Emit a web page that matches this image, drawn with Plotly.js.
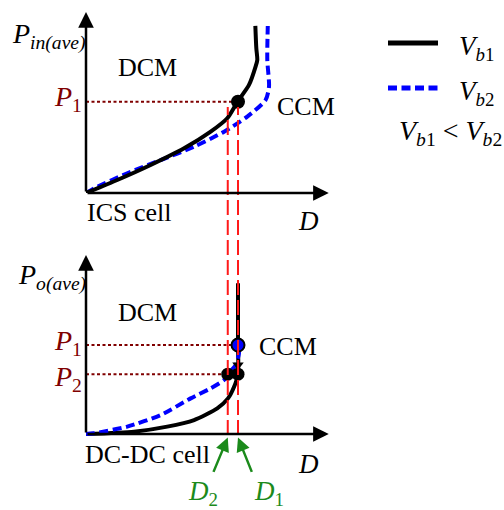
<!DOCTYPE html>
<html><head><meta charset="utf-8">
<script src="https://cdn.plot.ly/plotly-3.0.1.min.js"></script>
<style>html,body{margin:0;padding:0;background:#fff}#chart{width:504px;height:510px}</style>
</head><body><div id="chart"></div>
<script>
// ICS cell: average input power versus duty ratio D (normalised units)
const icsD_Vb1 = [0, 0.128, 0.265, 0.402, 0.511, 0.579, 0.621, 0.668, 0.695, 0.702, 0.698, 0.694];
const icsP_Vb1 = [0, 0.072, 0.155, 0.247, 0.339, 0.413, 0.504, 0.597, 0.698, 0.735, 0.80, 0.923];
const icsD_Vb2 = [0, 0.033, 0.169, 0.306, 0.443, 0.566, 0.661, 0.736, 0.750, 0.743, 0.745];
const icsP_Vb2 = [0, 0.026, 0.109, 0.182, 0.256, 0.339, 0.422, 0.514, 0.587, 0.735, 0.923];

// DC-DC cell: average output power versus duty ratio D
const dcD_Vb1 = [0, 0.197, 0.333, 0.443, 0.538, 0.582, 0.607, 0.623, 0.623, 0.623];
const dcP_Vb1 = [0, 0.013, 0.041, 0.078, 0.143, 0.199, 0.264, 0.334, 0.50, 0.842];
const dcD_Vb2 = [0, 0.033, 0.169, 0.306, 0.429, 0.511, 0.566, 0.581, 0.613, 0.627, 0.623];
const dcP_Vb2 = [0, 0.004, 0.041, 0.106, 0.199, 0.255, 0.302, 0.334, 0.385, 0.451, 0.497];

// operating points
const D1 = 0.623, D2 = 0.581;
const icsP1 = 0.504;
const dcP1 = 0.497, dcP2 = 0.334, dcPmid = 0.385;

// page geometry helpers (pixel -> paper fraction)
const W = 504, H = 510;
const px = x => x / W;
const py = y => 1 - y / H;

const BLUE = '#0000ff', DRED = '#800000', RED = '#ff1a1a', GREEN = '#1b8a1b';
const SERIF = 'Liberation Serif, Times New Roman, serif';

const traces = [
  // ICS cell
  {x: icsD_Vb2, y: icsP_Vb2, xaxis: 'x', yaxis: 'y', mode: 'lines',
   line: {color: BLUE, width: 4, dash: '9px,4.5px', shape: 'spline', smoothing: 0.7}},
  {x: icsD_Vb1, y: icsP_Vb1, xaxis: 'x', yaxis: 'y', mode: 'lines',
   line: {color: '#000', width: 4, shape: 'spline', smoothing: 0.7}},
  {x: [0, D1], y: [icsP1, icsP1], xaxis: 'x', yaxis: 'y', mode: 'lines',
   line: {color: DRED, width: 2, dash: '3px,2.5px'}},
  {x: [D1], y: [icsP1], xaxis: 'x', yaxis: 'y', mode: 'markers',
   marker: {color: '#000', size: 14}},

  // DC-DC cell
  {x: [0, D1], y: [dcP1, dcP1], xaxis: 'x2', yaxis: 'y2', mode: 'lines',
   line: {color: DRED, width: 2, dash: '3px,2.5px'}},
  {x: [0, D2], y: [dcP2, dcP2], xaxis: 'x2', yaxis: 'y2', mode: 'lines',
   line: {color: DRED, width: 2, dash: '3px,2.5px'}},
  {x: dcD_Vb1, y: dcP_Vb1, xaxis: 'x2', yaxis: 'y2', mode: 'lines',
   line: {color: '#000', width: 4, shape: 'spline', smoothing: 0.6}},
  {x: dcD_Vb2, y: dcP_Vb2, xaxis: 'x2', yaxis: 'y2', mode: 'lines',
   line: {color: BLUE, width: 4, dash: '9px,4.5px', shape: 'spline', smoothing: 0.6}},
  {x: [D1], y: [dcPmid], xaxis: 'x2', yaxis: 'y2', mode: 'markers',
   marker: {color: '#000', size: 10, symbol: 'triangle-down'}},
  {x: [D2, D1], y: [dcP2, dcP2], xaxis: 'x2', yaxis: 'y2', mode: 'markers',
   marker: {color: '#000', size: 13}},
  {x: [D1], y: [dcP1], xaxis: 'x2', yaxis: 'y2', mode: 'markers',
   marker: {color: BLUE, size: 13, line: {color: '#000', width: 2}}}
];

const hidden = {visible: false, fixedrange: true};
const xDom = [px(86), px(330)];
const topY = [py(193), py(12)];
// lower panel reaches below its origin so the D1/D2 pointers stay inside the axis range
const botLow = -0.3;
const botY = [py(434 - botLow * 179), py(255)];

// axis arrows, drawn from the origin of each panel
function axisArrow(xr, yr, x, y) {
  return {xref: xr, yref: yr, axref: xr, ayref: yr, x: x, y: y, ax: 0, ay: 0,
          showarrow: true, arrowhead: 2, arrowsize: 1.25, arrowwidth: 2.5,
          arrowcolor: '#000', text: '', standoff: 0, startstandoff: 0};
}
function greenArrow(x, ax) {
  return {xref: 'x2', yref: 'y2', axref: 'x2', ayref: 'y2', x: x, y: -0.02,
          ax: ax, ay: -0.22, showarrow: true, arrowhead: 2, arrowsize: 1.1,
          arrowwidth: 2.5, arrowcolor: GREEN, text: '', standoff: 0};
}
function label(x, y, text, opts) {
  return Object.assign({xref: 'paper', yref: 'paper', x: px(x), y: py(y), text: text,
    showarrow: false, xanchor: 'center', yanchor: 'middle',
    font: {family: SERIF, size: 26, color: '#000'}}, opts || {});
}
const big = (c, s) => ({family: SERIF, size: s || 28, color: c || '#000'});

const annotations = [
  axisArrow('x', 'y', 0, 1.0), axisArrow('x', 'y', 0.995, 0),
  axisArrow('x2', 'y2', 0, 1.0), axisArrow('x2', 'y2', 0.995, 0),
  greenArrow(D2, 0.52), greenArrow(D1, 0.682),

  label(10, 36, '<i>P</i><sub><i>in(ave)</i></sub>', {xanchor: 'left', font: big()}),
  label(147, 68, 'DCM'),
  label(52, 99, '<i>P</i><sub>1</sub>', {xanchor: 'left', font: big(DRED)}),
  label(306, 106, 'CCM'),
  label(129, 212, 'ICS cell'),
  label(308, 221, '<i>D</i>', {font: big('#000', 27)}),

  label(16, 277, '<i>P</i><sub><i>o(ave)</i></sub>', {xanchor: 'left', font: big()}),
  label(147, 312, 'DCM'),
  label(52, 342, '<i>P</i><sub>1</sub>', {xanchor: 'left', font: big(DRED)}),
  label(52, 378, '<i>P</i><sub>2</sub>', {xanchor: 'left', font: big(DRED)}),
  label(288, 346, 'CCM'),
  label(147, 454, 'DC-DC cell'),
  label(308, 464, '<i>D</i>', {font: big('#000', 27)}),
  label(186, 493, '<i>D</i><sub>2</sub>', {xanchor: 'left', font: big(GREEN, 27)}),
  label(252, 493, '<i>D</i><sub>1</sub>', {xanchor: 'left', font: big(GREEN, 27)}),

  // legend text
  label(457, 48, '<i>V</i><sub><i>b</i>1</sub>', {xanchor: 'left', font: big('#000', 27)}),
  label(457, 93, '<i>V</i><sub><i>b</i>2</sub>', {xanchor: 'left', font: big('#000', 27)}),
  label(397, 133, '<i>V</i><sub><i>b</i>1</sub> &lt; <i>V</i><sub><i>b</i>2</sub>', {xanchor: 'left', font: big('#000', 28)})
];

const shapes = [
  // duty-ratio markers crossing both panels
  {type: 'line', xref: 'x', yref: 'paper', x0: D2, x1: D2, y0: py(435), y1: py(107),
   line: {color: RED, width: 2, dash: '15px,5px'}, layer: 'above'},
  {type: 'line', xref: 'x', yref: 'paper', x0: D1, x1: D1, y0: py(435), y1: py(107),
   line: {color: RED, width: 2, dash: '15px,5px'}, layer: 'above'},
  // legend samples
  {type: 'line', xref: 'paper', yref: 'paper', x0: px(388), x1: px(438), y0: py(43), y1: py(43),
   line: {color: '#000', width: 5}},
  {type: 'line', xref: 'paper', yref: 'paper', x0: px(388), x1: px(438), y0: py(88), y1: py(88),
   line: {color: BLUE, width: 5, dash: '9px,4.5px'}}
];

const layout = {
  width: W, height: H, margin: {l: 0, r: 0, t: 0, b: 0},
  paper_bgcolor: '#fff', plot_bgcolor: 'rgba(0,0,0,0)', showlegend: false,
  xaxis: Object.assign({domain: xDom, range: [0, 1], anchor: 'y'}, hidden),
  yaxis: Object.assign({domain: topY, range: [0, 1], anchor: 'x'}, hidden),
  xaxis2: Object.assign({domain: xDom, range: [0, 1], anchor: 'y2'}, hidden),
  yaxis2: Object.assign({domain: botY, range: [botLow, 1], anchor: 'x2'}, hidden),
  annotations: annotations, shapes: shapes
};

Plotly.newPlot('chart', traces, layout, {staticPlot: true, displayModeBar: false});
</script></body></html>
